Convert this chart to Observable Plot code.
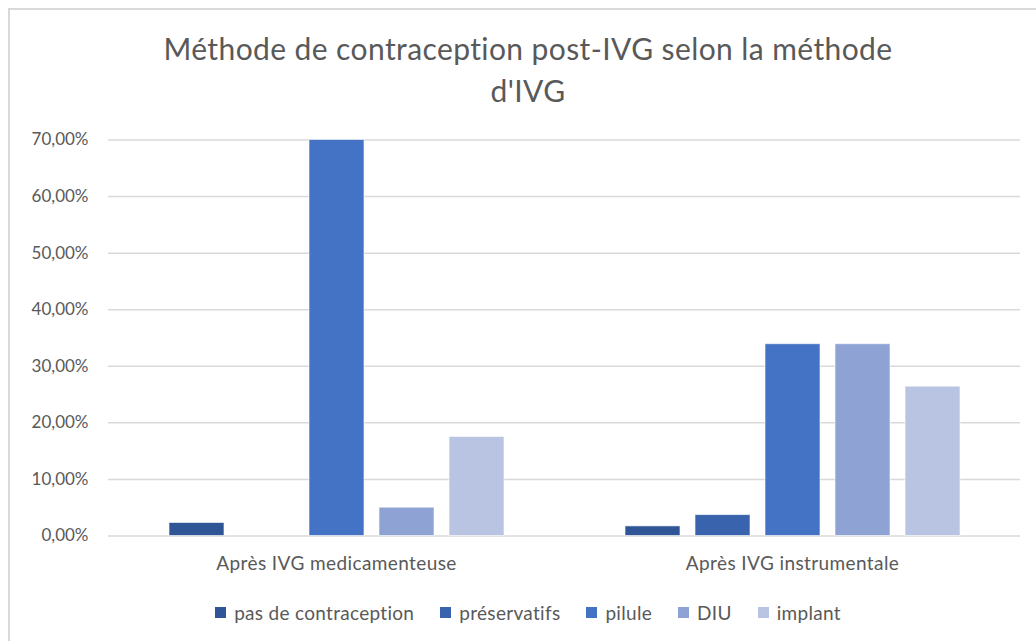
<!DOCTYPE html>
<html>
<head>
<meta charset="utf-8">
<script src="https://cdn.jsdelivr.net/npm/d3@7"></script>
<script src="https://cdn.jsdelivr.net/npm/@observablehq/plot@0.6"></script>
<style>
  html, body { margin: 0; padding: 0; background: #fff; width: 1036px; height: 641px; overflow: hidden; }
  #frame { position: absolute; left: 8px; top: 8px; width: 1200px; height: 800px; border-left: 2px solid #D9D9D9; border-top: 2px solid #D9D9D9; }
  #title { position: absolute; left: 0; width: 1056px; top: 27px; text-align: center; font-family: Lato, sans-serif; font-size: 30px; letter-spacing: 0.4px; color: #595959; line-height: 42px; }
  #chart { position: absolute; left: 0; top: 0; }
  #legend { position: absolute; left: 0; width: 1056px; top: 599px; text-align: center; font-family: Lato, sans-serif; font-size: 19px; letter-spacing: 0.3px; color: #595959; }
  .item { display: inline-flex; align-items: center; margin: 0 13px; }
  .sw { width: 11px; height: 11px; display: inline-block; margin-right: 8px; }
</style>
</head>
<body>
<div id="frame"></div>
<div id="title">Méthode de contraception post-IVG selon la méthode<br>d'IVG</div>
<div id="chart"></div>
<div id="legend"></div>
<script>
const groups = ["Après IVG medicamenteuse", "Après IVG instrumentale"];
const series = ["pas de contraception", "préservatifs", "pilule", "DIU", "implant"];
const valuesMedicamenteuse = [0.023, 0.0, 0.70, 0.05, 0.175];
const valuesInstrumentale = [0.017, 0.037, 0.339, 0.339, 0.264];
const colors = ["#2F5597", "#3A63AD", "#4472C4", "#8FA2D4", "#B9C4E2"];
const yTicks = [0, 0.1, 0.2, 0.3, 0.4, 0.5, 0.6, 0.7];

const data = [];
series.forEach((s, i) => {
  data.push({group: groups[0], series: s, value: valuesMedicamenteuse[i]});
  data.push({group: groups[1], series: s, value: valuesInstrumentale[i]});
});

const fmt = d => (d * 100).toFixed(2).replace(".", ",") + "%";

const chart = Plot.plot({
  width: 1036,
  height: 590,
  marginLeft: 108,
  marginRight: 16,
  marginTop: 139.5,
  marginBottom: 54.5,
  style: {fontFamily: "Lato, sans-serif", fontSize: "17px", color: "#595959", background: "transparent"},
  fx: {domain: groups, padding: 0, label: null, tickSize: 0, tickPadding: 20},
  x: {domain: series, paddingInner: 0.219, paddingOuter: 0.848, axis: null},
  y: {domain: [0, 0.7], ticks: yTicks, tickFormat: fmt, label: null, tickSize: 0, tickPadding: 20, grid: false},
  color: {domain: series, range: colors},
  marks: [
    Plot.ruleY(yTicks, {stroke: "#D9D9D9", strokeWidth: 1.5}),
    Plot.barY(data, {fx: "group", x: "series", y: "value", fill: "series", stroke: "#ffffff", strokeOpacity: 0.6, strokeWidth: 1})
  ]
});
d3.select(chart).selectAll("[aria-label='fx-axis tick label'] text").style("font-size", "19px").style("letter-spacing", "0.4px");
document.getElementById("chart").appendChild(chart);

const legend = document.getElementById("legend");
series.forEach((s, i) => {
  const item = document.createElement("span");
  item.className = "item";
  const sw = document.createElement("span");
  sw.className = "sw";
  sw.style.background = colors[i];
  item.appendChild(sw);
  item.appendChild(document.createTextNode(s));
  legend.appendChild(item);
});
</script>
</body>
</html>
